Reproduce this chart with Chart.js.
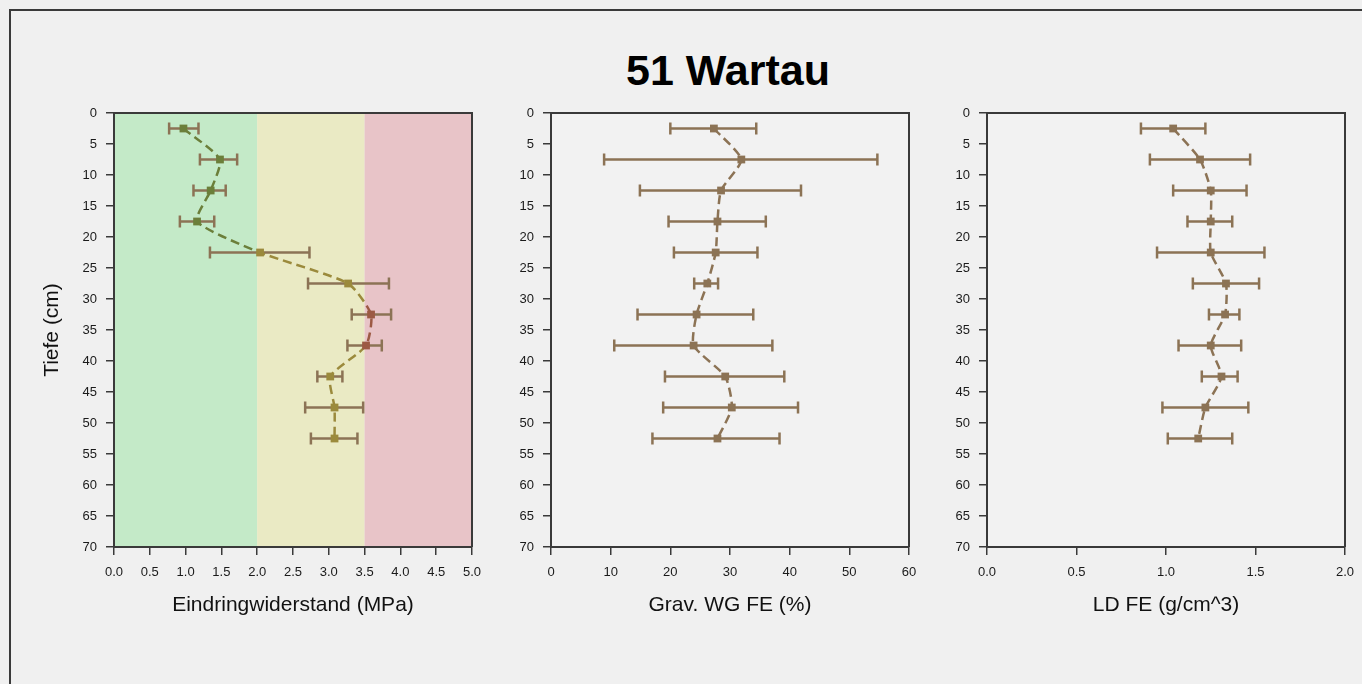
<!DOCTYPE html>
<html>
<head>
<meta charset="UTF-8">
<title>51 Wartau</title>
<script src="https://cdn.jsdelivr.net/npm/chart.js@4.4.1/dist/chart.umd.min.js"></script>
<style>
html, body { margin:0; padding:0; overflow:hidden; background:#f0f0f0; }
body { font-family:"Liberation Sans", Arial, sans-serif; }
#frame { position:absolute; left:9px; top:9px; right:0; bottom:0; border-left:2px solid #3a3a3a; border-top:2px solid #3a3a3a; }
#title { position:absolute; left:528px; top:45px; width:400px; height:50px; line-height:50px; text-align:center; font-weight:bold; font-size:43px; color:#000; }
canvas { position:absolute; top:100px; }
</style>
</head>
<body>
<div id="frame"></div>
<div id="title">51 Wartau</div>
<canvas id="chart1" width="452" height="530" style="left:30px"></canvas>
<canvas id="chart2" width="452" height="530" style="left:467px"></canvas>
<canvas id="chart3" width="452" height="530" style="left:903px"></canvas>

<script>
// depth of each sample (cm)
var depths = [2.5, 7.5, 12.5, 17.5, 22.5, 27.5, 32.5, 37.5, 42.5, 47.5, 52.5];

// Eindringwiderstand (MPa)
var ewMean = [0.97, 1.48, 1.35, 1.16, 2.04, 3.27, 3.59, 3.52, 3.02, 3.08, 3.08];
var ewLow  = [0.77, 1.20, 1.11, 0.92, 1.34, 2.71, 3.32, 3.26, 2.84, 2.67, 2.75];
var ewHigh = [1.18, 1.72, 1.56, 1.40, 2.73, 3.84, 3.87, 3.74, 3.19, 3.48, 3.40];

// Grav. WG FE (%)
var wgMean = [27.3, 31.9, 28.5, 27.9, 27.6, 26.2, 24.4, 23.9, 29.2, 30.3, 27.9];
var wgLow  = [20.0, 8.9, 14.9, 19.7, 20.6, 24.0, 14.5, 10.6, 19.1, 18.8, 17.0];
var wgHigh = [34.4, 54.7, 41.9, 36.0, 34.6, 28.0, 33.9, 37.1, 39.1, 41.4, 38.3];

// LD FE (g/cm^3)
var ldMean = [1.04, 1.19, 1.25, 1.25, 1.25, 1.335, 1.33, 1.25, 1.31, 1.22, 1.18];
var ldLow  = [0.86, 0.91, 1.04, 1.12, 0.95, 1.15, 1.24, 1.07, 1.20, 0.98, 1.01];
var ldHigh = [1.22, 1.47, 1.45, 1.37, 1.55, 1.52, 1.41, 1.42, 1.40, 1.46, 1.37];

// resistance zones in the first panel (MPa)
var zoneEdges = [0, 2, 3.5, 5];
var zoneFill = ['#c4eac8', '#eaeac4', '#e8c4c8'];
var zoneLine = ['#6b7f3a', '#9b8a3c', '#9c5a44'];

var brown = '#8c7355';
var axisColor = '#3a3a3a';

Chart.defaults.font.family = '"Liberation Sans", Arial, sans-serif';
Chart.defaults.color = '#1a1a1a';

function zoneOf(v) {
    if (v < zoneEdges[1]) return 0;
    if (v < zoneEdges[2]) return 1;
    return 2;
}

// background of the plot area (zones or plain)
var backPlugin = {
    id: 'back',
    beforeDraw: function (chart, args, opts) {
        var a = chart.chartArea, ctx = chart.ctx, x = chart.scales.x;
        ctx.save();
        if (opts.zoned) {
            for (var i = 0; i < zoneFill.length; i++) {
                var l = x.getPixelForValue(zoneEdges[i]);
                var r = x.getPixelForValue(zoneEdges[i + 1]);
                ctx.fillStyle = zoneFill[i];
                ctx.fillRect(l, a.top, r - l, a.bottom - a.top);
            }
        } else {
            ctx.fillStyle = '#f2f2f2';
            ctx.fillRect(a.left, a.top, a.right - a.left, a.bottom - a.top);
        }
        ctx.restore();
    },
    afterDraw: function (chart) {
        var a = chart.chartArea, ctx = chart.ctx;
        ctx.save();
        ctx.strokeStyle = axisColor;
        ctx.lineWidth = 2;
        ctx.beginPath();
        ctx.moveTo(a.left, a.top);
        ctx.lineTo(a.right, a.top);
        ctx.lineTo(a.right, a.bottom);
        ctx.stroke();
        ctx.restore();
    }
};

// horizontal error bars with caps
var errPlugin = {
    id: 'errbars',
    beforeDatasetsDraw: function (chart, args, opts) {
        var x = chart.scales.x, y = chart.scales.y, ctx = chart.ctx;
        ctx.save();
        ctx.strokeStyle = brown;
        ctx.lineWidth = 2.5;
        for (var i = 0; i < depths.length; i++) {
            var py = y.getPixelForValue(depths[i]);
            var x0 = x.getPixelForValue(opts.low[i]);
            var x1 = x.getPixelForValue(opts.high[i]);
            ctx.beginPath();
            ctx.moveTo(x0, py); ctx.lineTo(x1, py);
            ctx.moveTo(x0, py - 6); ctx.lineTo(x0, py + 6);
            ctx.moveTo(x1, py - 6); ctx.lineTo(x1, py + 6);
            ctx.stroke();
        }
        ctx.restore();
    }
};

function zoneGradient(context) {
    var chart = context.chart, a = chart.chartArea;
    if (!a) return zoneLine[0];
    var x = chart.scales.x;
    var w = a.right - a.left;
    var g = chart.ctx.createLinearGradient(a.left, 0, a.right, 0);
    var p1 = (x.getPixelForValue(zoneEdges[1]) - a.left) / w;
    var p2 = (x.getPixelForValue(zoneEdges[2]) - a.left) / w;
    g.addColorStop(0, zoneLine[0]);
    g.addColorStop(p1, zoneLine[0]);
    g.addColorStop(p1, zoneLine[1]);
    g.addColorStop(p2, zoneLine[1]);
    g.addColorStop(p2, zoneLine[2]);
    g.addColorStop(1, zoneLine[2]);
    return g;
}

function makeChart(id, means, lows, highs, xMax, xStep, dec, xTitle, zoned, yTitle) {
    var pts = means.map(function (v, i) { return { x: v, y: depths[i] }; });
    var pointColors = means.map(function (v) { return zoned ? zoneLine[zoneOf(v)] : brown; });
    return new Chart(document.getElementById(id), {
        type: 'scatter',
        data: {
            datasets: [{
                data: pts,
                showLine: true,
                tension: 0.2,
                borderColor: zoned ? zoneGradient : brown,
                borderWidth: 2.5,
                borderDash: [9, 5],
                pointStyle: 'rect',
                pointRadius: 5.5,
                pointHoverRadius: 5.5,
                pointBorderWidth: 0,
                pointBackgroundColor: pointColors
            }]
        },
        options: {
            responsive: false,
            animation: false,
            layout: { padding: { left: 0, right: 10, top: 13, bottom: 0 } },
            plugins: {
                legend: { display: false },
                tooltip: { enabled: false },
                back: { zoned: zoned },
                errbars: { low: lows, high: highs }
            },
            scales: {
                x: {
                    type: 'linear', min: 0, max: xMax,
                    ticks: {
                        stepSize: xStep, padding: 10, font: { size: 13 },
                        callback: function (v) { return dec ? v.toFixed(dec) : v; }
                    },
                    grid: { drawOnChartArea: false, tickLength: 8, color: axisColor, lineWidth: 1.5 },
                    border: { color: axisColor, width: 2 },
                    title: { display: true, text: xTitle, font: { size: 21 }, color: '#111', padding: { top: 0, bottom: 12 } },
                    afterFit: function (s) { s.height = 83; s.paddingLeft = 0; s.paddingRight = 0; }
                },
                y: {
                    type: 'linear', reverse: true, min: 0, max: 70,
                    ticks: { stepSize: 5, padding: 9, font: { size: 13 } },
                    grid: { drawOnChartArea: false, tickLength: 8, color: axisColor, lineWidth: 1.5 },
                    border: { color: axisColor, width: 2 },
                    title: { display: !!yTitle, text: yTitle || '', font: { size: 21 }, color: '#111', padding: { top: 10, bottom: 0 } },
                    afterFit: function (s) { s.width = 84; s.paddingTop = 0; s.paddingBottom = 0; }
                }
            }
        },
        plugins: [backPlugin, errPlugin]
    });
}

var chart1 = makeChart('chart1', ewMean, ewLow, ewHigh, 5, 0.5, 1, 'Eindringwiderstand (MPa)', true, 'Tiefe (cm)');
var chart2 = makeChart('chart2', wgMean, wgLow, wgHigh, 60, 10, 0, 'Grav. WG FE (%)', false, null);
var chart3 = makeChart('chart3', ldMean, ldLow, ldHigh, 2, 0.5, 1, 'LD FE (g/cm^3)', false, null);
</script>
</body>
</html>
